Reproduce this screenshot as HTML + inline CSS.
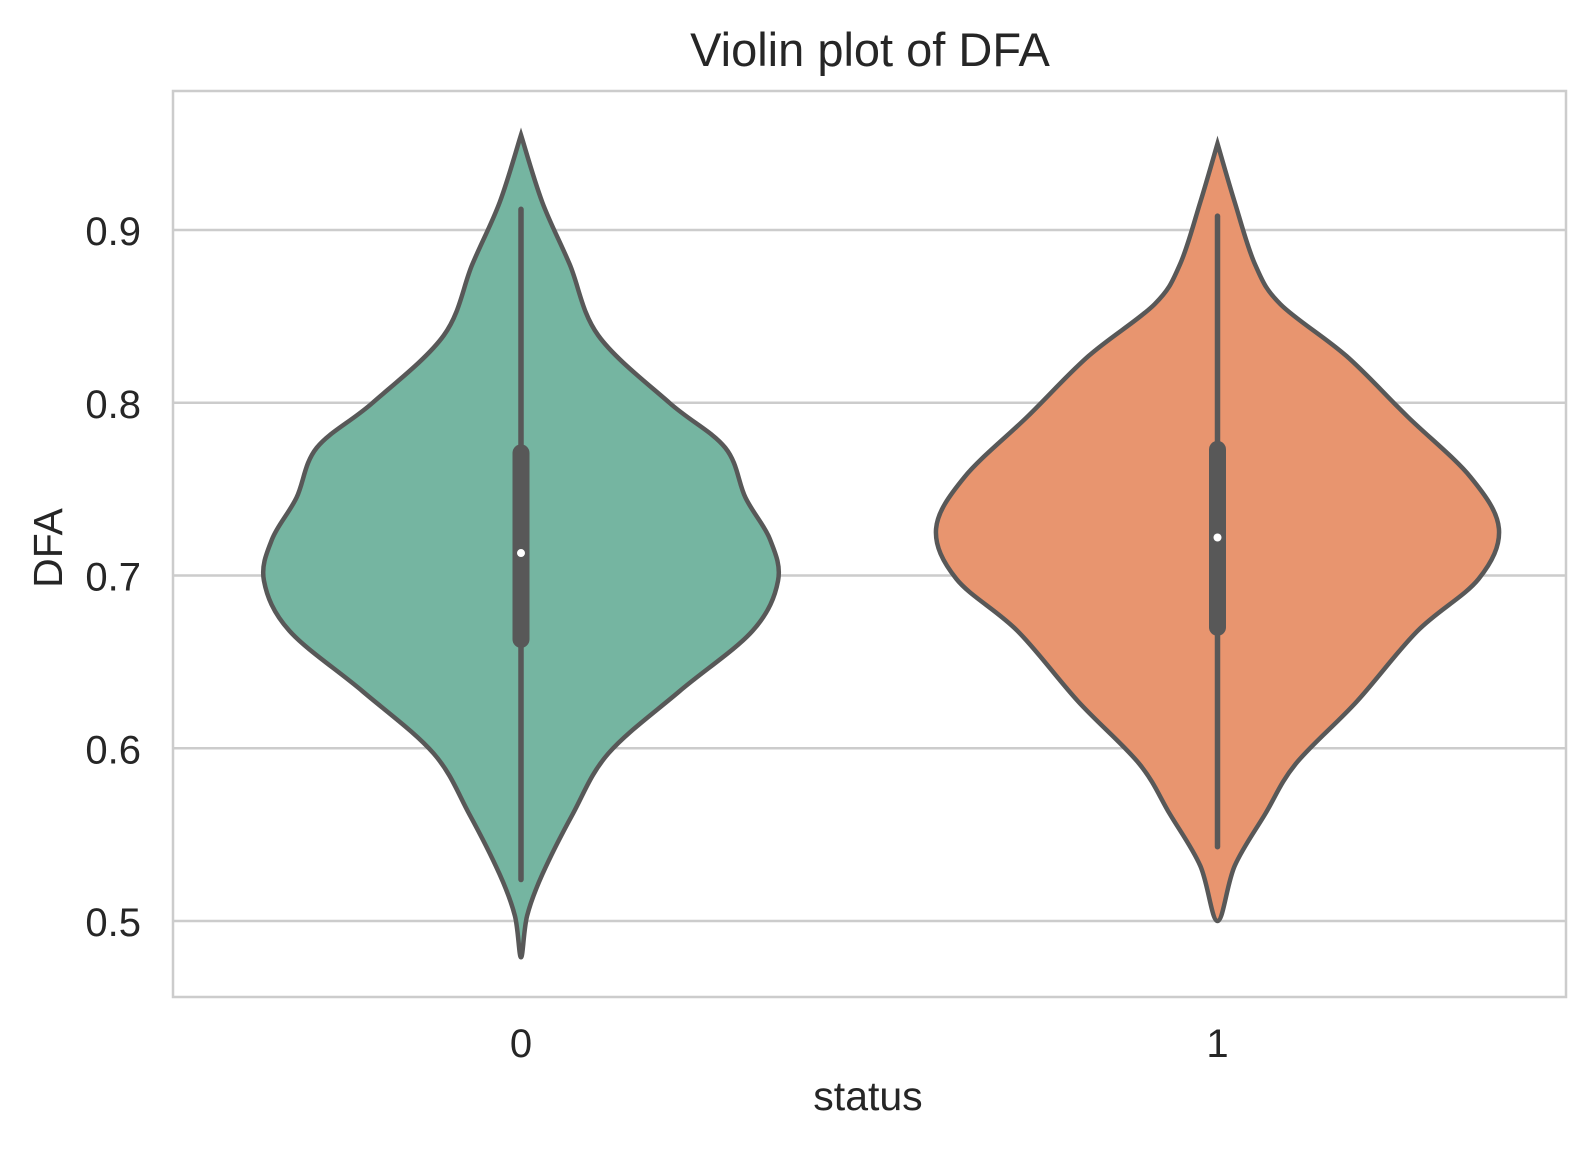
<!DOCTYPE html>
<html><head><meta charset="utf-8"><style>
html,body{margin:0;padding:0;background:#fff}
svg text{font-family:"Liberation Sans",Arial,sans-serif;fill:#262626}
</style></head><body>
<svg id="chart" width="1596" height="1149" viewBox="0 0 1596 1149" xmlns="http://www.w3.org/2000/svg">
<text x="870" y="66" font-size="47" text-anchor="middle">Violin plot of DFA</text>
<g id="grid"></g>
<g id="violins"></g>
<rect x="173" y="91" width="1393" height="906" fill="none" stroke="#cccccc" stroke-width="2.5"/>
<g id="yticks"></g>
<g id="xticks"></g>
<text transform="translate(62,548) rotate(-90)" font-size="41" text-anchor="middle">DFA</text>
<text x="868" y="1110" font-size="41" text-anchor="middle">status</text>
</svg>
<script>
const categories = ["0","1"];
const yTicks = [0.5,0.6,0.7,0.8,0.9];
const colors = ["#75b5a1","#e8956f"];
const v0Vals = [0.955,0.916,0.880,0.839,0.800,0.774,0.745,0.721,0.697,0.668,0.633,0.597,0.562,0.527,0.503,0.479];
const v0Dens = [0,21,48,76,146,201,221,245,253,228,156,86,51,21,6,0];
const v1Vals = [0.950,0.916,0.880,0.857,0.827,0.792,0.757,0.727,0.698,0.668,0.627,0.591,0.562,0.532,0.500];
const v1Dens = [0,17,37,62,127,187,249,277,257,197,137,77,47,17,0];
const q1s = [0.663,0.670];
const q3s = [0.771,0.773];
const medians = [0.713,0.722];
const whiskLo = [0.524,0.543];
const whiskHi = [0.912,0.908];
const profVals=[v0Vals,v1Vals], profDens=[v0Dens,v1Dens];

const NS="http://www.w3.org/2000/svg";
const y=v=>921-(v-0.5)*1727.5;
const x=i=>521+i*696.5;
const wScale=1.016;
function mk(tag,attrs,parent){const e=document.createElementNS(NS,tag);for(const k in attrs)e.setAttribute(k,attrs[k]);parent.appendChild(e);return e;}
const grid=document.getElementById('grid'),yt=document.getElementById('yticks'),xt=document.getElementById('xticks'),vg=document.getElementById('violins');
yTicks.forEach(t=>{
  const l=mk('line',{x1:173,x2:1566,y1:y(t),y2:y(t),stroke:'#cccccc','stroke-width':2.5},grid);
  
  
  const tx=mk('text',{x:141,y:y(t)+15,'font-size':40,'text-anchor':'end'},yt);
  tx.textContent=t.toFixed(1);
  
  
});
categories.forEach((c,i)=>{
  const tx=mk('text',{x:x(i),y:1057,'font-size':40,'text-anchor':'middle'},xt);
  tx.textContent=c;
  
  
});
function spline(pts){
  let d=`M${pts[0][0]},${pts[0][1]}`;
  for(let i=0;i<pts.length-1;i++){
    const p0=pts[Math.max(i-1,0)],p1=pts[i],p2=pts[i+1],p3=pts[Math.min(i+2,pts.length-1)];
    const c1=[p1[0]+(p2[0]-p0[0])/6,p1[1]+(p2[1]-p0[1])/6];
    const c2=[p2[0]-(p3[0]-p1[0])/6,p2[1]-(p3[1]-p1[1])/6];
    d+=`C${c1[0]},${c1[1]} ${c2[0]},${c2[1]} ${p2[0]},${p2[1]}`;
  }
  return d;
}
categories.forEach((c,i)=>{
  const vals=profVals[i],dens=profDens[i],cx=x(i);
  const right=vals.map((v,k)=>[cx+dens[k]*wScale,y(v)]);
  const left=vals.map((v,k)=>[cx-dens[k]*wScale,y(v)]).reverse();
  const pts=right.concat(left.slice(1));
  const p=mk('path',{d:spline(pts)+'Z',fill:colors[i],stroke:'#585858','stroke-width':4.5},vg);
  
  
  const w=mk('line',{x1:cx,x2:cx,y1:y(whiskLo[i]),y2:y(whiskHi[i]),stroke:'#585858','stroke-width':5.5,'stroke-linecap':'round'},vg);
  
  
  const b=mk('line',{x1:cx,x2:cx,y1:y(q1s[i]),y2:y(q3s[i]),stroke:'#585858','stroke-width':17,'stroke-linecap':'round'},vg);
  
  
  const m=mk('circle',{cx:cx,cy:y(medians[i]),r:4,fill:'#ffffff'},vg);
  
  
});
</script>
</body></html>
